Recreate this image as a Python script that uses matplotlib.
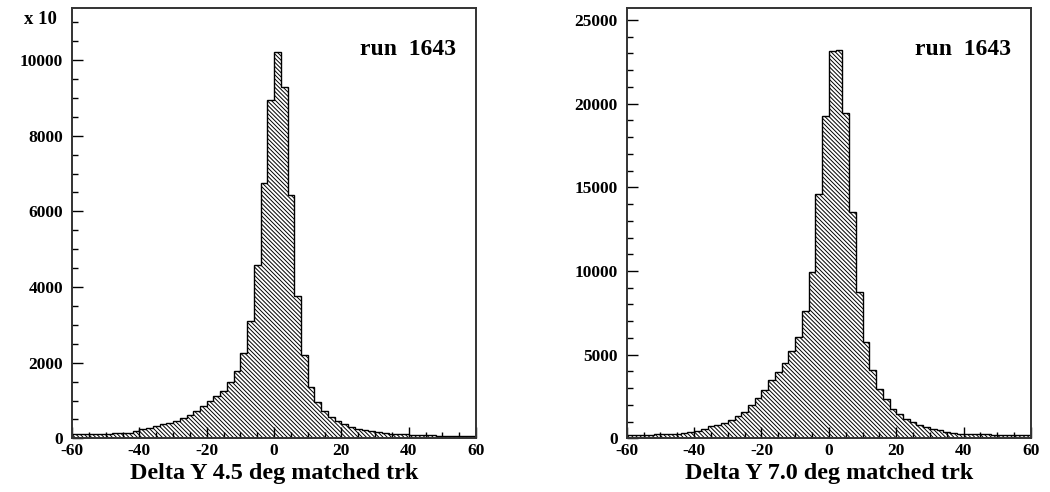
import numpy as np
import matplotlib
matplotlib.use("Agg")
import matplotlib.pyplot as plt
from matplotlib.ticker import MultipleLocator

plt.rcParams['font.family'] = ['Liberation Serif', 'DejaVu Serif']
plt.rcParams['font.weight'] = 'bold'
plt.rcParams['hatch.linewidth'] = 0.7
plt.rcParams['axes.unicode_minus'] = False

# bin edges -60..60, width 2
edges = np.arange(-60, 62, 2)

# left panel, counts in units of 10 ("x 10")
dy45 = [110, 112, 115, 118, 122, 126, 130, 135, 145, 194,
        238, 282, 317, 370, 414, 467, 528, 608, 714, 846,
        978, 1119, 1251, 1480, 1780, 2265, 3100, 4580, 6760, 8940,
        10220, 9280, 6440, 3760, 2200, 1350, 965, 718, 564, 450,
        370, 291, 247, 211, 185, 159, 141, 123, 115, 106,
        82, 80, 78, 76, 74, 72, 70, 68, 66, 64]

# right panel
dy70 = [225, 228, 222, 226, 230, 232, 250, 270, 300, 380,
        460, 560, 720, 820, 940, 1120, 1360, 1600, 2000, 2420,
        2900, 3480, 3940, 4500, 5200, 6080, 7610, 9930, 14610, 19260,
        23120, 23180, 19440, 13550, 8730, 5740, 4070, 2975, 2360, 1750,
        1460, 1160, 960, 800, 700, 560, 480, 380, 300, 260,
        240, 235, 232, 230, 228, 226, 225, 224, 222, 220]

xlabels = ["Delta Y 4.5 deg matched trk", "Delta Y 7.0 deg matched trk"]
run_text = "run  1643"
ymax = [11370, 25700]
ymajor = [2000, 5000]
yminor = [500, 1000]

fig = plt.figure(figsize=(10.5, 4.92), dpi=100)
ax1 = fig.add_axes([0.0686, 0.1091, 0.3848, 0.874])
ax2 = fig.add_axes([0.5969, 0.1091, 0.3850, 0.874])

for i, (ax, vals) in enumerate([(ax1, dy45), (ax2, dy70)]):
    ax.stairs(vals, edges, fill=True, baseline=0, facecolor='none',
              edgecolor='black', hatch='\\' * 8, linewidth=1.0)
    ax.set_xlim(-60, 60)
    ax.set_ylim(0, ymax[i])
    ax.xaxis.set_major_locator(MultipleLocator(20))
    ax.xaxis.set_minor_locator(MultipleLocator(5))
    ax.yaxis.set_major_locator(MultipleLocator(ymajor[i]))
    ax.yaxis.set_minor_locator(MultipleLocator(yminor[i]))
    ax.tick_params(which='major', direction='in', length=8, width=1.0,
                   labelsize=12.5, top=False, right=False)
    ax.tick_params(which='minor', direction='in', length=4, width=1.0,
                   top=False, right=False)
    ax.tick_params(axis='y', pad=6.5)
    ax.tick_params(axis='x', pad=3.5)
    for s in ax.spines.values():
        s.set_linewidth(1.4)
        s.set_color('#333333')
    ax.set_xlabel(xlabels[i], fontsize=17.4, fontweight='bold', labelpad=2.5)
    ax.text(0.95, 0.905, run_text, transform=ax.transAxes, ha='right',
            va='center', fontsize=17, fontweight='bold')
    for lab in ax.get_xticklabels() + ax.get_yticklabels():
        lab.set_fontweight('bold')

fig.text(24 / 1050, 1 - 19 / 492, "x 10", ha='left', va='center',
         fontsize=13.5, fontweight='bold')

fig.savefig("out.png", dpi=100)
